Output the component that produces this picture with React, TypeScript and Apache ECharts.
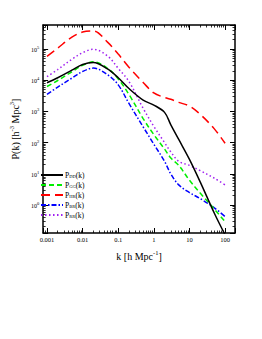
import React, { useEffect, useRef } from "react";
import * as echarts from "echarts";

const kValues = [0.001, 0.002, 0.005, 0.01, 0.02, 0.05, 0.1, 0.2, 0.5, 1, 2, 3, 5, 10, 20, 50, 100];
const pDD = [8300, 12000, 21000, 32000, 37000, 23000, 12000, 5400, 2300, 1600, 930, 370, 126, 29, 5.5, 0.54, 0.11];
const pGG = [6300, 9800, 18600, 30000, 39000, 24000, 11000, 3500, 590, 180, 62, 32, 18.6, 6.2, 2.4, 0.74, 0.29];
const pHR = [58000, 107000, 240000, 350000, 380000, 166000, 69000, 26000, 8500, 3900, 2800, 2450, 1950, 1480, 810, 275, 95];
const pBR = [3500, 6000, 11700, 19000, 24500, 15000, 7100, 1800, 320, 89, 25, 9.8, 4.4, 2.5, 1.6, 0.81, 0.42];
const pRR = [13000, 22000, 47000, 76000, 98000, 60000, 24000, 9100, 1260, 330, 100, 50, 25, 18.6, 12.6, 7.2, 4.4];

const seriesNames = ["P_DD(k)", "P_GG(k)", "P_HR(k)", "P_BR(k)", "P_RR(k)"];
const xTickLabels = ["0.001", "0.01", "0.1", "1", "10", "100"];
const yTickExponents = ["0", "1", "2", "3", "4", "5"];

const FONT = "Liberation Serif";

export default function App() {
  const ref = useRef<HTMLDivElement>(null);
  useEffect(() => {
    if (!ref.current) return;
    const chart = echarts.init(ref.current, null, { renderer: "svg" });
    const pairs = (vals: number[]) => kValues.map((k, i) => [k, vals[i]]);
    const styles = [
      { color: "#000000", type: "solid", width: 1.5 },
      { color: "#00ee00", type: [5, 3], width: 1.5 },
      { color: "#ff0000", type: [9, 5], width: 1.5 },
      { color: "#0000ff", type: [5, 2, 1.5, 2], width: 1.5 },
      { color: "#a020f0", type: [1.5, 2.5], width: 1.5 },
    ];
    const allVals = [pDD, pGG, pHR, pBR, pRR];
    const xMin = 0.00078, xMax = 190, yMin = 0.126, yMax = 5.9e5;
    const xLabel = (v: number) => {
      const e = Math.round(Math.log10(v));
      return xTickLabels[e + 3] ?? "";
    };
    const yLabel = (v: number) => {
      const e = Math.round(Math.log10(v));
      const s = yTickExponents[e];
      return s === undefined ? "" : `{b|10}{s|${s}}`;
    };
    const common = {
      type: "log",
      logBase: 10,
      splitNumber: 10,
      axisLine: { show: true, lineStyle: { color: "#000", width: 1.5 } },
      axisTick: { show: true, inside: true, length: 5, lineStyle: { color: "#000", width: 1 } },
      minorTick: { show: true, splitNumber: 9, length: 2.5, lineStyle: { color: "#000", width: 0.8 } },
      splitLine: { show: false },
      minorSplitLine: { show: false },
    };
    chart.setOption({
      animation: false,
      backgroundColor: "#ffffff",
      grid: { left: 26, top: 25, width: 209, height: 208 },
      xAxis: [
        {
          ...common,
          min: xMin,
          max: xMax,
          position: "bottom",
          axisLabel: {
            formatter: xLabel,
            fontFamily: FONT,
            fontSize: 6.5,
            color: "#000",
            margin: 3,
            showMinLabel: false,
            showMaxLabel: false,
          },
          name: "{n|k [h Mpc}{s|-1}{n|]}",
          nameLocation: "middle",
          nameGap: 16,
          nameTextStyle: {
            fontFamily: FONT,
            fontSize: 10,
            color: "#000",
            rich: {
              n: { fontFamily: FONT, fontSize: 10, color: "#000", lineHeight: 12, verticalAlign: "bottom" },
              s: { fontFamily: FONT, fontSize: 6.5, color: "#000", lineHeight: 12, verticalAlign: "top" },
            },
          },
        },
        {
          ...common,
          min: xMin,
          max: xMax,
          position: "top",
          axisLabel: { show: false },
        },
      ],
      yAxis: [
        {
          ...common,
          min: yMin,
          max: yMax,
          position: "left",
          axisLabel: {
            formatter: yLabel,
            fontFamily: FONT,
            color: "#000",
            margin: 4,
            showMinLabel: false,
            showMaxLabel: false,
            rich: {
              b: { fontFamily: FONT, fontSize: 6, color: "#000", lineHeight: 8, verticalAlign: "bottom" },
              s: { fontFamily: FONT, fontSize: 4.5, color: "#000", lineHeight: 8, verticalAlign: "top" },
            },
          },
          name: "{n|P(k) [h}{s|-3}{n| Mpc}{s|3}{n|]}",
          nameLocation: "middle",
          nameRotate: 90,
          nameGap: 16,
          nameTextStyle: {
            fontFamily: FONT,
            fontSize: 10,
            color: "#000",
            rich: {
              n: { fontFamily: FONT, fontSize: 10, color: "#000", lineHeight: 12, verticalAlign: "bottom" },
              s: { fontFamily: FONT, fontSize: 6.5, color: "#000", lineHeight: 12, verticalAlign: "top" },
            },
          },
        },
        {
          ...common,
          min: yMin,
          max: yMax,
          position: "right",
          axisLabel: { show: false },
        },
      ],
      legend: {
        orient: "vertical",
        left: 40,
        top: 171,
        padding: 0,
        itemWidth: 22,
        itemHeight: 8,
        itemGap: 2,
        data: seriesNames,
        itemStyle: { opacity: 0 },
        formatter: (name: string) => {
          const m = name.match(/^P_(\w+)\(k\)$/);
          return m ? `{p|P}{sub|${m[1]}}{p|(k)}` : name;
        },
        textStyle: {
          fontFamily: FONT,
          fontSize: 7.5,
          color: "#000",
          padding: [0, 0, 0, -3],
          lineHeight: 8,
          rich: {
            p: { fontFamily: FONT, fontSize: 7.5, color: "#000", lineHeight: 8, verticalAlign: "top" },
            sub: { fontFamily: FONT, fontSize: 4.5, color: "#000", lineHeight: 5, verticalAlign: "bottom" },
          },
        },
      },
      series: seriesNames.map((name, i) => ({
        name,
        type: "line",
        data: pairs(allVals[i]),
        smooth: 0.35,
        symbol: "none",
        showSymbol: false,
        clip: true,
        lineStyle: styles[i],
        itemStyle: { color: styles[i].color, opacity: 0 },
        z: 10 - i,
      })),
    });
    return () => chart.dispose();
  }, []);
  return (
    <div
      ref={ref}
      style={{ position: "fixed", left: 0, top: 0, width: 262, height: 339, background: "#fff" }}
    />
  );
}
